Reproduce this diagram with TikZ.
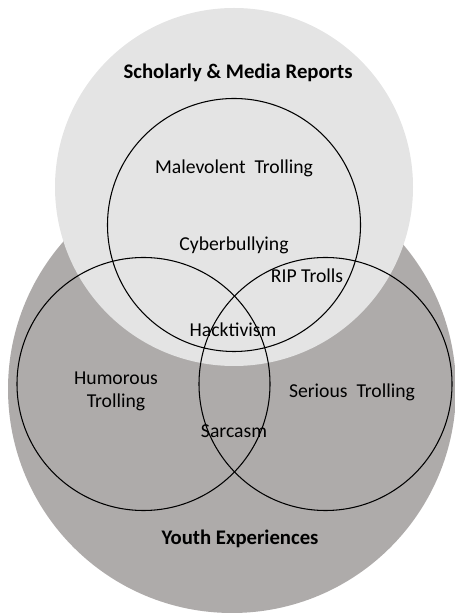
\documentclass[tikz,border=0pt]{standalone}
\usepackage{fontspec}
\setmainfont{Carlito}
\definecolor{reportgray}{HTML}{E4E4E4}
\definecolor{youthgray}{HTML}{AEABAA}
\begin{document}
\begin{tikzpicture}[x=0.02cm, y=0.02cm,
  lbl/.style={font=\fontsize{11.2pt}{13pt}\selectfont, inner sep=1pt, align=center},
  head/.style={lbl, font=\fontsize{11.8pt}{14pt}\selectfont\bfseries},
  ring/.style={line width=0.6pt, black}]
  \useasboundingbox (0,0) rectangle (455,615);
  % the two big areas
  \fill[youthgray] (232,226) circle (224);
  \fill[reportgray] (234,428) circle (179);
  % the three kinds of trolling
  \draw[ring] (234,390) circle (126.5);
  \draw[ring] (143.5,231) circle (126.5);
  \draw[ring] (325.5,231) circle (126.5);
  \node[head] (reports) at (238,542) {Scholarly \& Media Reports};
  \node[head] (youth) at (240,76) {Youth Experiences};
  \node[lbl] (malevolent) at (234,447) {Malevolent\ \ Trolling};
  \node[lbl] (cyber) at (234,370) {Cyberbullying};
  \node[lbl] (rip) at (307,339) {RIP Trolls};
  \node[lbl] (hack) at (233,285) {Hacktivism};
  \node[lbl] (humorous) at (116,224) {Humorous\\Trolling};
  \node[lbl] (serious) at (352,223) {Serious\ \ Trolling};
  \node[lbl] (sarcasm) at (234,184) {Sarcasm};
\end{tikzpicture}
\end{document}
